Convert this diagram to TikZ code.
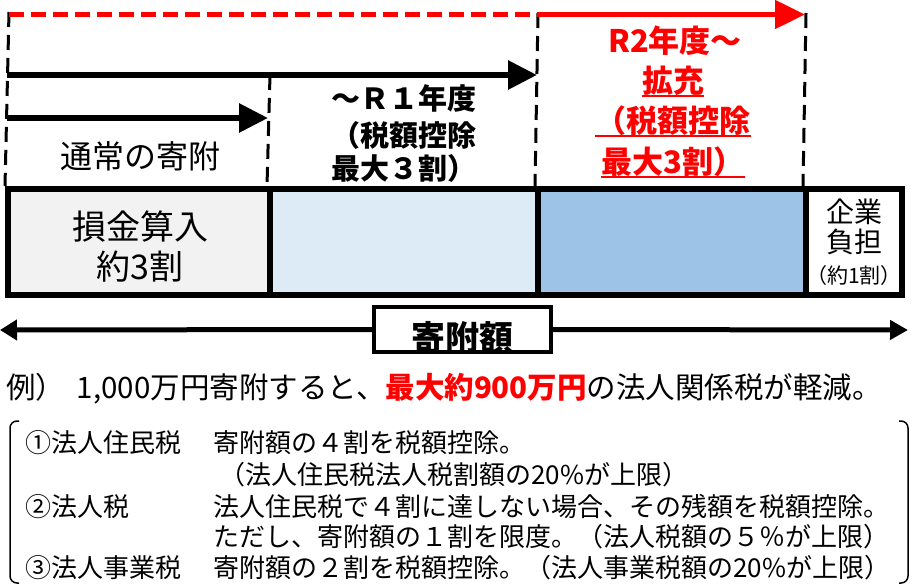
\documentclass[tikz,border=0pt]{standalone}
\usepackage{fontspec}
\newfontfamily\jp{Noto Sans CJK JP}
\usetikzlibrary{arrows.meta}
\definecolor{redc}{RGB}{255,0,0}
\definecolor{grayfill}{RGB}{242,242,242}
\definecolor{lightblue}{RGB}{221,235,247}
\definecolor{midblue}{RGB}{157,195,230}
\begin{document}
\begin{tikzpicture}[x=1pt,y=-1pt,
  cell/.style={draw, line width=6pt, minimum height=106pt, inner sep=0pt},
  vdash/.style={line width=3pt, dash pattern=on 15pt off 8pt},
  blkarrow/.style={line width=6pt, -{Triangle[length=29pt,width=28pt]}},
  txt/.style={inner sep=0pt, anchor=base},
  lst/.style={inner sep=0pt, anchor=base west, font=\jp\fontsize{26}{26}\selectfont},
  r1font/.style={font=\jp\bfseries\fontsize{29}{29}\selectfont},
  r2font/.style={text=redc, font=\jp\bfseries\fontsize{31}{31}\selectfont},
  uline/.style={redc, line width=2pt},
  bracket/.style={line width=1.5pt, rounded corners=7pt},
]
\useasboundingbox (0,0) rectangle (921,588);
% cells
\node[cell, fill=grayfill, minimum width=262pt] (c1) at (139,242) {};
\node[cell, fill=lightblue, minimum width=268pt] (c2) at (404,242) {};
\node[cell, fill=midblue, minimum width=268pt] (c3) at (672,242) {};
\node[cell, fill=white, minimum width=96pt] (c4) at (854,242) {};
% vertical dashed guides
\coordinate (v0t) at (9,12);
\coordinate (v1t) at (270,75);
\coordinate (v2t) at (538,13);
\coordinate (v3t) at (806,13);
\draw[vdash] (v0t) -- (c1.north west);
\draw[vdash] (v1t) -- (c2.north west);
\draw[vdash] (v2t) -- (c3.north west);
\draw[vdash] (v3t) -- (c4.north west);
% red arrow
\coordinate (rs) at (9,14.5);
\coordinate (rm) at (538,14.5);
\coordinate (re) at (805,14.5);
\draw[redc, line width=5pt, dash pattern=on 15pt off 7pt] (rs) -- (rm);
\draw[redc, line width=5pt, -{Triangle[length=30pt,width=28pt]}] (rm) -- (re);
% black arrows
\coordinate (a1s) at (7,75);
\coordinate (a1e) at (537,75);
\draw[blkarrow] (a1s) -- (a1e);
\coordinate (a2s) at (7,118);
\coordinate (a2e) at (268,118);
\draw[blkarrow] (a2s) -- (a2e);
% texts above
\node[txt, font=\jp\fontsize{32}{32}\selectfont] (t1) at (140,169) {通常の寄附};
\node[txt, r1font] (r1a) at (404,110) {～Ｒ１年度};
\node[txt, r1font] (r1b) at (404,147) {（税額控除};
\node[txt, r1font] (r1c) at (404,180) {最大３割）};
\node[txt, r2font] (r2a) at (675,53) {R2年度～};
\node[txt, r2font] (r2b) at (673,93) {拡充};
\node[txt, r2font] (r2c) at (673,133) {（税額控除};
\node[txt, r2font] (r2d) at (673,174) {最大3割）};
\draw[uline] ([yshift=-3pt]r2b.base west) -- ([yshift=-3pt]r2b.base east);
\draw[uline] ([yshift=-3pt]r2c.base west) -- ([yshift=-3pt]r2c.base east);
\draw[uline] ([yshift=-3pt]r2d.base west) -- ([yshift=-3pt]r2d.base east);
% cell texts
\node[txt, font=\jp\fontsize{34}{34}\selectfont] (s1) at (140,240) {損金算入};
\node[txt, font=\jp\fontsize{34}{34}\selectfont] (s2) at (140,279) {約3割};
\node[txt, font=\jp\fontsize{28}{28}\selectfont] (k1) at (854,223) {企業};
\node[txt, font=\jp\fontsize{28}{28}\selectfont] (k2) at (854,253) {負担};
\node[txt, font=\jp\fontsize{21}{21}\selectfont] (k3) at (854,283) {（約1割）};
% kifu box and double arrow
\node[draw, line width=4pt, fill=white, minimum width=177pt, minimum height=45pt, inner sep=0pt] (kb) at (462.5,329.5) {};
\node[txt, font=\jp\bfseries\fontsize{34}{34}\selectfont] (kt) at (462.5,350) {寄附額};
\coordinate (dl) at (0,330);
\coordinate (dr) at (908,330);
\draw[line width=5pt, -{Triangle[length=17pt,width=20pt]}] (kb.west) -- (dl);
\draw[line width=5pt, -{Triangle[length=18pt,width=19pt]}] (kb.east) -- (dr);
% example
\node[inner sep=0pt, anchor=base west, font=\jp\fontsize{29.5}{30}\selectfont] (ex) at (6,398.5) {例）\hspace{0.4em}1,000万円寄附すると、{\color{redc}\bfseries 最大約900万円}の法人関係税が軽減。};
% list
\node[lst] (l1a) at (25,452) {①法人住民税};
\node[lst] (l1b) at (213,452) {寄附額の４割を税額控除。};
\node[lst] (l2b) at (219,484) {（法人住民税法人税割額の20\%が上限）};
\node[lst] (l3a) at (25,516) {②法人税};
\node[lst] (l3b) at (213,516) {法人住民税で４割に達しない場合、その残額を税額控除。};
\node[lst] (l4b) at (213,546) {ただし、寄附額の１割を限度。（法人税額の５％が上限）};
\node[lst] (l5a) at (25,577) {③法人事業税};
\node[lst] (l5b) at (213,577) {寄附額の２割を税額控除。（法人事業税額の20\%が上限）};
% brackets
\coordinate (bl1) at (19,421); \coordinate (bl2) at (10,421);
\coordinate (bl3) at (10,583); \coordinate (bl4) at (19,583);
\coordinate (br1) at (899,421); \coordinate (br2) at (908,421);
\coordinate (br3) at (908,583); \coordinate (br4) at (899,583);
\draw[bracket] (bl1) -- (bl2) -- (bl3) -- (bl4);
\draw[bracket] (br1) -- (br2) -- (br3) -- (br4);
\end{tikzpicture}
\end{document}
